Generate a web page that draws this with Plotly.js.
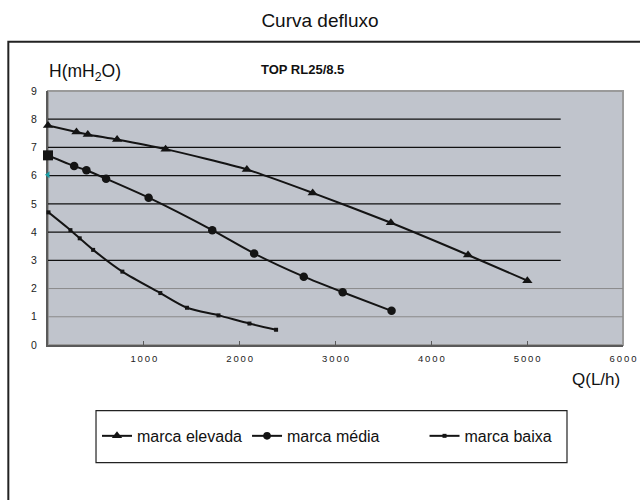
<!DOCTYPE html>
<html>
<head>
<meta charset="utf-8">
<script src="https://cdn.plot.ly/plotly-3.0.1.min.js"></script>
<style>html,body{margin:0;padding:0;background:#fff;}#chart{width:640px;height:500px;}</style>
</head>
<body>
<div id="chart"></div>
<script>
// ---- data ----
const elevadaQ = [0, 297, 415, 721, 1227, 2075, 2762, 3578, 4383, 5002];
const elevadaH = [7.78, 7.55, 7.46, 7.28, 6.94, 6.22, 5.39, 4.33, 3.19, 2.28];

const mediaQ = [0, 273, 401, 606, 1050, 1714, 2151, 2669, 3075, 3585];
const mediaH = [6.72, 6.34, 6.19, 5.89, 5.22, 4.07, 3.24, 2.42, 1.87, 1.21];

const baixaQ = [5, 234, 331, 471, 776, 1172, 1450, 1779, 2102, 2380];
const baixaH = [4.70, 4.07, 3.78, 3.37, 2.60, 1.84, 1.32, 1.05, 0.76, 0.54];

const markerQ = [0];
const markerH = [6.03];

const seriesNames = ['marca elevada', 'marca média', 'marca baixa'];
const xTickVals = [1000, 2000, 3000, 4000, 5000, 6000];
const xTickText = xTickVals.map(v => String(v).split('').join('\u2009'));
const yTickVals = [0, 1, 2, 3, 4, 5, 6, 7, 8, 9];

const FONT = 'Liberation Sans, Arial, Helvetica, sans-serif';
const INK = '#141414';
const PAD = '\u00A0'.repeat(9);

const traces = [
  {x: elevadaQ, y: elevadaH, name: seriesNames[0], mode: 'lines+markers', cliponaxis: false,
   line: {color: INK, width: 2, shape: 'spline', smoothing: 0.6},
   marker: {symbol: 'triangle-up', size: 9, color: INK, opacity: 1, line: {width: 0}}},
  {x: mediaQ, y: mediaH, name: seriesNames[1] + PAD, mode: 'lines+markers', cliponaxis: false,
   line: {color: INK, width: 2, shape: 'spline', smoothing: 0.6},
   marker: {symbol: 'circle', size: mediaQ.map((q, i) => i === 0 ? 0 : 8.5), color: INK, opacity: 1, line: {width: 0}}},
  {x: baixaQ, y: baixaH, name: seriesNames[2], mode: 'lines+markers', cliponaxis: false,
   line: {color: INK, width: 2, shape: 'spline', smoothing: 0.8},
   marker: {symbol: 'square', size: 4, color: INK, opacity: 1, line: {width: 0}}},
  {x: [mediaQ[0]], y: [mediaH[0]], mode: 'markers', showlegend: false, hoverinfo: 'skip', cliponaxis: false,
   marker: {symbol: 'square', size: 10, color: INK, line: {width: 0}}},
  {x: markerQ, y: markerH, mode: 'markers', showlegend: false, hoverinfo: 'skip', cliponaxis: false,
   marker: {symbol: 'triangle-left', size: 6, color: '#1a9ca3', line: {width: 0}}}
];

// gridlines: grey at 1,2 full width, black at 3..8 up to ~5350
const shapes = [];
[1, 2].forEach(v => shapes.push({type: 'line', xref: 'x', yref: 'y', x0: 0, x1: 6000, y0: v, y1: v,
  line: {color: '#8a8a8a', width: 1}, layer: 'below'}));
[3, 4, 5, 6, 7, 8].forEach(v => shapes.push({type: 'line', xref: 'x', yref: 'y', x0: 0, x1: 5350, y0: v, y1: v,
  line: {color: '#111', width: 1.2}, layer: 'below'}));
// plot area border (top/right lighter grey)
shapes.push({type: 'rect', xref: 'paper', yref: 'paper', x0: 0, x1: 1, y0: 0, y1: 1,
  line: {color: '#9a9a9a', width: 2}, layer: 'below'});
// outer frame
shapes.push({type: 'rect', xref: 'paper', yref: 'paper', x0: -0.069, x1: 1.2, y0: -1, y1: 1.194,
  line: {color: '#222', width: 2}, layer: 'above'});
// legend box
shapes.push({type: 'rect', xref: 'paper', yref: 'paper', x0: 0.0835, x1: 0.9026, y0: -0.4634, y1: -0.2587,
  line: {color: '#222', width: 1.2}, fillcolor: 'rgba(0,0,0,0)', layer: 'above'});

const layout = {
  width: 640, height: 500,
  margin: {l: 48, r: 17, t: 91, b: 155},
  paper_bgcolor: '#ffffff',
  plot_bgcolor: '#c0c4cc',
  font: {family: FONT, color: INK},
  title: {text: 'Curva defluxo', font: {family: FONT, size: 19, color: '#111'},
          x: 0.5, xanchor: 'center', xref: 'container', y: 0.96, yanchor: 'middle', yref: 'container'},
  xaxis: {range: [0, 6000], tickvals: xTickVals, ticktext: xTickText, showgrid: false, zeroline: false,
          showline: true, linecolor: '#5a5a5a', linewidth: 2, ticks: 'inside', ticklen: 4, tickcolor: '#5a5a5a',
          tickfont: {family: FONT, size: 9.5, color: '#222'}, ticklabelstandoff: 4, fixedrange: true,
          layer: 'below traces'},
  yaxis: {range: [0, 9], tickvals: yTickVals, showgrid: false, zeroline: false,
          showline: true, linecolor: '#5a5a5a', linewidth: 2, ticks: '',
          tickfont: {family: FONT, size: 10.5, color: '#222'}, ticklabelstandoff: 7, fixedrange: true,
          layer: 'below traces'},
  showlegend: true,
  legend: {orientation: 'h', x: 0.0852, xanchor: 'left', y: -0.358, yanchor: 'middle',
           bgcolor: 'rgba(0,0,0,0)', borderwidth: 0, font: {family: FONT, size: 16, color: '#111'},
           itemwidth: 30},
  shapes: shapes,
  annotations: [
    {text: '<b>TOP RL25/8.5</b>', xref: 'paper', yref: 'paper', x: 0.443, y: 1.083, showarrow: false,
     font: {family: FONT, size: 13, color: '#111'}, xanchor: 'center', yanchor: 'middle'},
    {text: 'H(mH<sub>2</sub>O)', xref: 'paper', yref: 'paper', x: 0.064, y: 1.071, showarrow: false,
     font: {family: FONT, size: 17.5, color: '#111'}, xanchor: 'center', yanchor: 'middle'},
    {text: 'Q(L/h)', xref: 'paper', yref: 'paper', x: 0.953, y: -0.134, showarrow: false,
     font: {family: FONT, size: 17, color: '#111'}, xanchor: 'center', yanchor: 'middle'}
  ]
};

Plotly.newPlot('chart', traces, layout, {displayModeBar: false, staticPlot: true});
</script>
</body>
</html>
